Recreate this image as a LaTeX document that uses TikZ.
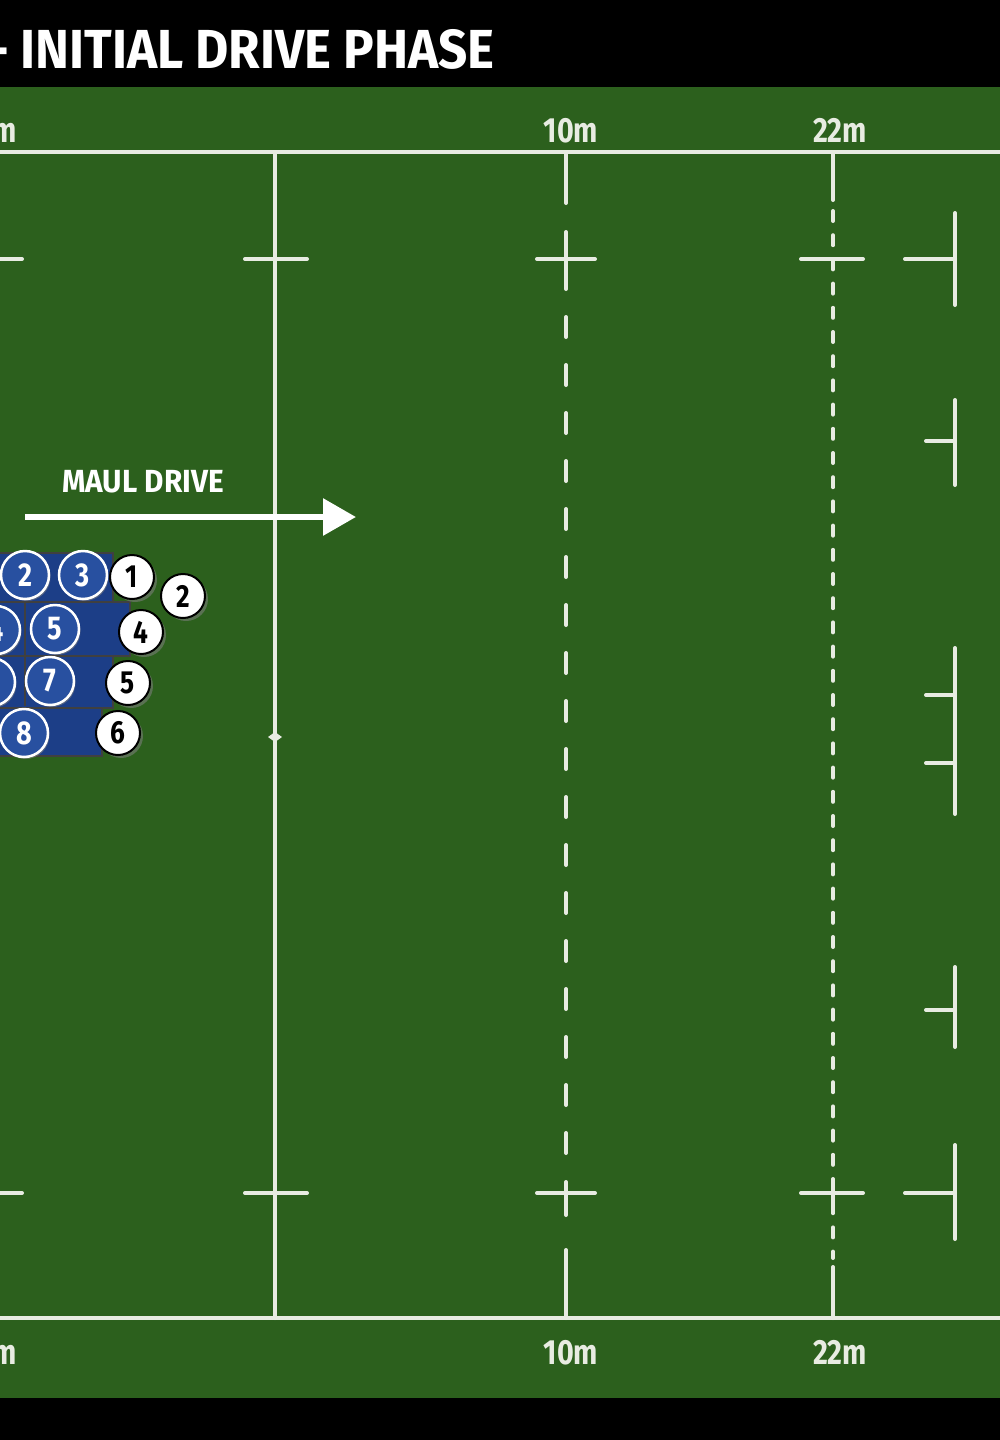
\documentclass[tikz,border=0pt]{standalone}
\usepackage{fontspec}
\setmainfont{Fira Sans}
\newfontfamily\cond[FakeStretch=0.82]{Fira Sans}
\newfontfamily\wide[FakeStretch=0.93]{Fira Sans}
\usetikzlibrary{arrows.meta,shadows}
\definecolor{grass}{RGB}{44,96,29}
\definecolor{lwhite}{RGB}{232,236,226}
\definecolor{pblue}{RGB}{40,80,160}
\definecolor{rblue}{RGB}{28,62,135}
\tikzset{
  fline/.style={draw=lwhite, line width=4pt, line cap=round},
  ylabel/.style={text=lwhite, font=\cond\bfseries\fontsize{35}{35}\selectfont, inner sep=0pt},
  bluep/.style={circle, draw=white, line width=2.5pt, fill=pblue, minimum size=48pt, inner sep=0pt,
    text=white, font=\cond\bfseries\fontsize{33}{33}\selectfont,
    drop shadow={opacity=0.6, shadow xshift=1.5pt, shadow yshift=-2pt}},
  whitep/.style={circle, draw=black, line width=2pt, fill=white, minimum size=44pt, inner sep=0pt,
    text=black, font=\cond\bfseries\fontsize{32}{32}\selectfont,
    drop shadow={opacity=0.55, shadow xshift=3pt, shadow yshift=-3pt}},
  rowbox/.style={fill=rblue, draw=black!75, line width=1.5pt},
}
\begin{document}
\begin{tikzpicture}[x=1pt,y=-1pt]
\useasboundingbox (0,0) rectangle (1000,1440);
\clip (0,0) rectangle (1000,1440);
\fill[black] (0,0) rectangle (1000,1440);
\fill[grass] (0,87) rectangle (1000,1398);
% title
\node[anchor=base east, inner sep=0pt, text=white, font=\wide\bfseries\fontsize{55}{55}\selectfont] (title) at (495,68) {– INITIAL DRIVE PHASE};
% touchlines
\draw[fline] (-10,152) -- (1010,152);
\draw[fline] (-10,1318) -- (1010,1318);
% left line stubs
\draw[fline] (-10,259) -- (22,259);
\draw[fline] (-10,1193) -- (22,1193);
% solid line at 275
\draw[fline] (275,152) -- (275,1318);
\draw[fline] (245,259) -- (307,259);
\draw[fline] (245,1193) -- (307,1193);
\fill[lwhite] (268,737) -- (275,732) -- (282,737) -- (275,742) -- cycle;
% 10m line
\draw[fline] (566,152) -- (566,203);
\draw[fline] (566,232) -- (566,289);
\draw[fline] (537,259) -- (595,259);
\draw[fline, line cap=round, dash pattern=on 20pt off 28pt] (566,317) -- (566,1160);
\draw[fline] (566,1182) -- (566,1215);
\draw[fline] (537,1193) -- (595,1193);
\draw[fline] (566,1250) -- (566,1318);
% 22m line
\draw[fline] (833,152) -- (833,200);
\draw[fline, dash pattern=on 10pt off 14.2pt] (833,211) -- (833,1258);
\draw[fline] (833,1180) -- (833,1208);
\draw[fline] (801,259) -- (863,259);
\draw[fline] (801,1193) -- (863,1193);
\draw[fline] (833,1267) -- (833,1318);
% right side marks
\draw[fline] (955,213) -- (955,305);
\draw[fline] (905,259) -- (955,259);
\draw[fline] (955,400) -- (955,485);
\draw[fline] (926,441) -- (955,441);
\draw[fline] (955,648) -- (955,814);
\draw[fline] (926,695) -- (955,695);
\draw[fline] (926,763) -- (955,763);
\draw[fline] (955,967) -- (955,1047);
\draw[fline] (926,1010) -- (955,1010);
\draw[fline] (955,1145) -- (955,1239);
\draw[fline] (905,1193) -- (955,1193);
% yard labels
\node[ylabel, anchor=base] (t10) at (571,142) {10m};
\node[ylabel, anchor=base] (t22) at (840,142) {22m};
\node[ylabel, anchor=base east] (tm) at (17,142) {m};
\node[ylabel, anchor=base] (b10) at (571,1364) {10m};
\node[ylabel, anchor=base] (b22) at (840,1364) {22m};
\node[ylabel, anchor=base east] (bm) at (17,1364) {m};
% maul drive arrow
\node[anchor=base, inner sep=0pt, text=white, font=\wide\bfseries\fontsize{32}{32}\selectfont] (maul) at (143,492) {MAUL DRIVE};
\coordinate (a0) at (25,517);
\coordinate (a1) at (356,517);
\draw[white, line width=6pt, -{Triangle[length=33pt,width=36pt]}] (a0) -- (a1);
% scrum boxes
\draw[rowbox] (-20,553) rectangle (113,602);
\draw[rowbox] (-20,602) rectangle (130,656);
\draw[rowbox] (-20,656) rectangle (113,708);
\draw[rowbox] (-20,708) rectangle (102,756);
\draw[black!75, line width=1.5pt] (25,602) -- (25,706);
% blue players
\node[bluep] (b2) at (25,575) {2};
\node[bluep] (b3) at (83,575) {3};
\node[bluep] (b4) at (-4,630) {4};
\node[bluep] (b5) at (55,629) {5};
\node[bluep] (b6) at (-9,682) {6};
\node[bluep] (b7) at (50,681) {7};
\node[bluep] (b8) at (24,733) {8};
% white players
\node[whitep] (w1) at (132,577) {1};
\node[whitep] (w2) at (183,596) {2};
\node[whitep] (w4) at (141,632) {4};
\node[whitep] (w5) at (128,683) {5};
\node[whitep] (w6) at (118,733) {6};
\end{tikzpicture}
\end{document}
